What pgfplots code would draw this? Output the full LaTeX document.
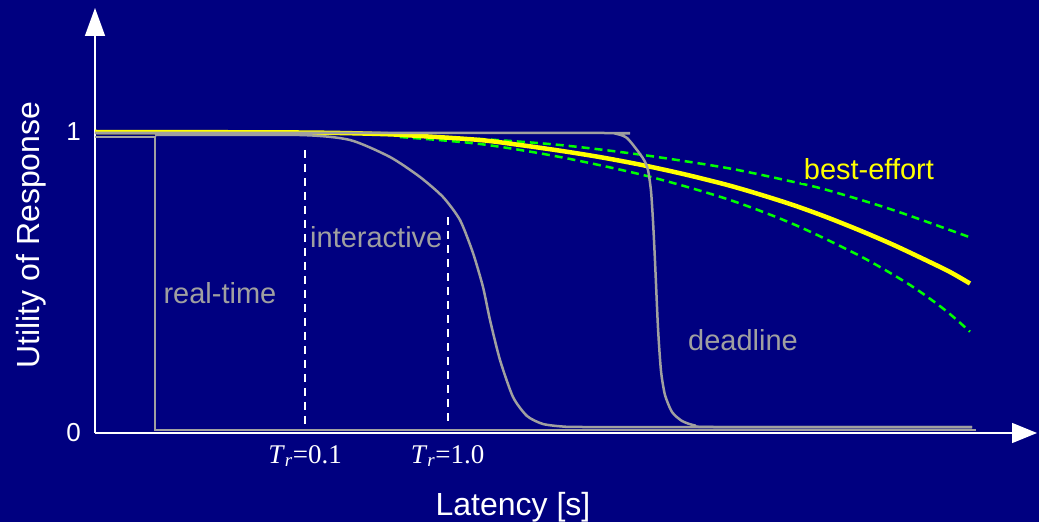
\documentclass[border=0pt]{standalone}
\usepackage{pgfplots}
\pgfplotsset{compat=1.18}
\usepackage{fontspec}
\setmainfont{Liberation Sans}
\newfontfamily\timesfont{Liberation Serif}
\usetikzlibrary{arrows.meta}
\definecolor{bg}{RGB}{0,0,128}
\definecolor{curvegray}{RGB}{160,160,160}
\definecolor{beyellow}{RGB}{255,255,0}
\definecolor{begreen}{RGB}{0,255,0}
\begin{document}
\begin{tikzpicture}
\useasboundingbox (0,0) rectangle (1039pt,522pt);
\fill[bg] (0,0) rectangle (1039pt,522pt);
\begin{axis}[
  at={(95pt,89pt)}, anchor=south west,
  scale only axis, width=942pt, height=425pt,
  xmin=0, xmax=942, ymin=0, ymax=1.41196,
  clip=false,
  axis lines=left,
  axis line style={white, line width=1.5pt},
  x axis line style={-{Triangle[width=20pt,length=25pt]}},
  y axis line style={-{Triangle[width=20pt,length=28pt]}},
  major tick length=0pt,
  xtick={210,352.6}, xticklabels={{\textit{T}\textsubscript{\textit{r}}=0.1},{\textit{T}\textsubscript{\textit{r}}=1.0}},
  xticklabel style={font=\timesfont\fontsize{27}{30}\selectfont, text=white, inner sep=0pt, anchor=north, yshift=-12pt},
  ytick={0,1}, yticklabels={0,1},
  yticklabel style={font=\fontsize{26}{30}\selectfont, text=white, inner sep=0pt, anchor=east, xshift=-14pt},
  xlabel={Latency [s]},
  xlabel style={font=\fontsize{32}{38}\selectfont, text=white, at={(axis description cs:0.4437,-0.1946)}, anchor=base},
  ylabel={Utility of Response},
  ylabel style={font=\fontsize{32}{38}\selectfont, text=white, at={(axis description cs:-0.0591,0.4659)}, anchor=base, rotate=0},
]
% best-effort bounds (green dashed)
\addplot[begreen, line width=2.5pt, dash pattern=on 8pt off 5pt, smooth] coordinates {
(305,0.9867) (385,0.9767) (465,0.9568) (548,0.9236) (632,0.8804) (693,0.8382) (732,0.8073) (798,0.7409) (875,0.6501)};
\addplot[begreen, line width=2.5pt, dash pattern=on 8pt off 5pt, smooth] coordinates {
(305,0.9834) (385,0.9601) (465,0.9169) (552,0.8538) (632,0.7774) (698,0.6944) (765,0.5880) (815,0.4917) (850,0.4086) (875,0.3365)};
% best-effort (yellow)
\addplot[beyellow, line width=4.5pt, smooth] coordinates {
(0,1.0000) (205,0.9983) (285,0.9934) (325,0.9867) (385,0.9734) (425,0.9568) (465,0.9379) (505,0.9166) (548,0.8897) (590,0.8591) (632,0.8243) (665,0.7924) (698,0.7575) (731,0.7179) (765,0.6728) (798,0.6256) (832,0.5724) (855,0.5349) (875,0.4967)};
% real-time
\addplot[curvegray, line width=2.5pt] coordinates {
(0,0.9834) (60,0.9834) (60,0.0093) (881,0.0093)};
% interactive
\addplot[curvegray, line width=2.5pt, smooth, tension=0.4] coordinates {
(60,0.9900) (205,0.9900) (255,0.9734) (295,0.9169) (325,0.8505) (348,0.7841) (365,0.7076) (378,0.5980) (388,0.4850) (395,0.3754) (405,0.2425) (418,0.1196) (432,0.0565) (448,0.0299) (470,0.0210) (500,0.0199) (877,0.0199)};
% deadline
\addplot[curvegray, line width=2.5pt, smooth, tension=0.4] coordinates {
(0,0.9967) (505,0.9967) (522,0.9934) (532,0.9801) (542,0.9402) (549,0.9070) (553,0.8738) (556,0.8040) (558,0.7043) (560,0.5714) (563,0.3488) (566,0.2060) (570,0.1262) (577,0.0698) (587,0.0399) (600,0.0249) (620,0.0199) (877,0.0199)};
% T_r markers
\addplot[white, line width=2.2pt, dash pattern=on 8pt off 6pt] coordinates {(210,0.9402) (210,0.0266)};
\addplot[white, line width=2.2pt, dash pattern=on 8pt off 6pt] coordinates {(352.6,0.7176) (352.6,0.0266)};
% labels
\node[anchor=base west, text=curvegray, font=\fontsize{29}{34}\selectfont, inner sep=0pt] at (axis cs:68.3,0.4309) {real-time};
\node[anchor=base west, text=curvegray, font=\fontsize{29}{34}\selectfont, inner sep=0pt] at (axis cs:215,0.6169) {interactive};
\node[anchor=base west, text=curvegray, font=\fontsize{29}{34}\selectfont, inner sep=0pt] at (axis cs:593,0.2757) {deadline};
\node[anchor=base west, text=beyellow, fill=bg, font=\fontsize{29}{34}\selectfont, inner sep=3pt] at (axis cs:705.7,0.8429) {best-effort};
\end{axis}
\end{tikzpicture}
\end{document}
